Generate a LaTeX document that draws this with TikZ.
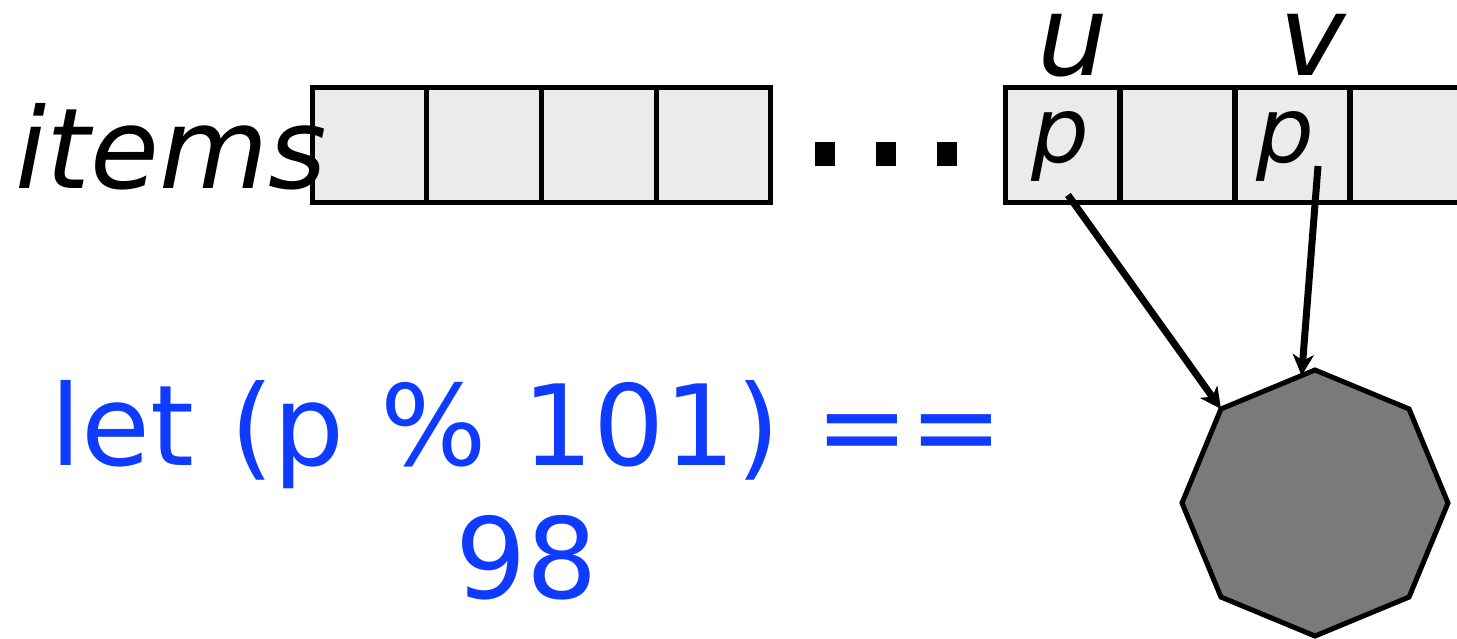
\documentclass[tikz,border=0pt]{standalone}
\usepackage{fontspec}
\setmainfont{DejaVu Sans}
\usetikzlibrary{shapes.geometric,arrows.meta}
\definecolor{cellgray}{RGB}{235,235,235}
\definecolor{octgray}{RGB}{122,122,122}
\definecolor{letblue}{RGB}{15,58,255}
\tikzset{
  cell/.style={draw=black, fill=cellgray, line width=5pt, minimum width=114.75pt, minimum height=115pt, inner sep=0pt, outer sep=0pt},
  bigital/.style={font=\fontsize{112}{112}\selectfont\itshape, inner sep=0pt, anchor=base, text height=0.56em, text depth=0pt},
  pital/.style={font=\fontsize{91}{91}\selectfont\itshape, inner sep=0pt, anchor=base, text height=0.56em, text depth=0.2em},
  dotsq/.style={fill=black, minimum width=20pt, minimum height=24pt, inner sep=0pt, outer sep=0pt},
  ptr/.style={line width=7pt, -{Stealth[length=21pt,width=21pt,inset=6pt]}},
}
\begin{document}
\begin{tikzpicture}[x=1pt,y=-1pt]
\useasboundingbox (0,0) rectangle (1457,638);
% first array
\node[cell] (a1) at (369.4,145) {};
\node[cell] (a2) at (484.1,145) {};
\node[cell] (a3) at (598.9,145) {};
\node[cell] (a4) at (713.6,145) {};
% dots
\node[dotsq] (d1) at (825,154) {};
\node[dotsq] (d2) at (886,154) {};
\node[dotsq] (d3) at (947,154) {};
% second array
\node[cell] (b1) at (1062.5,145) {};
\node[cell] (b2) at (1177.5,145) {};
\node[cell] (b3) at (1292.5,145) {};
\node[cell] (b4) at (1407.5,145) {};
% labels
\node[font=\fontsize{112}{112}\selectfont\itshape, inner sep=0pt, anchor=base] (items) at (171,188) {items};
\node[bigital] (u) at (1073,75) {u};
\node[bigital] (v) at (1313,75) {v};
\node[pital] (p1) at (1060,162) {p};
\node[pital] (p2) at (1285,162) {p};
% octagon
\node[regular polygon, regular polygon sides=8, shape border rotate=22.5, minimum size=266pt, inner sep=0pt, outer sep=0pt, draw=black, line width=5pt, fill=octgray] (oct) at (1315,503) {};
% pointers
\coordinate (s1) at (1068,195);
\coordinate (s2) at (1318,166);
\draw[ptr] (s1) -- (oct.135);
\draw[ptr] (s2) -- (oct.96);
% condition text
\node[font=\fontsize{112}{133}\selectfont, text=letblue, align=center, inner sep=0pt, anchor=base] (cond) at (527,598) {let (p \% 101) ==\\98};
\end{tikzpicture}
\end{document}
